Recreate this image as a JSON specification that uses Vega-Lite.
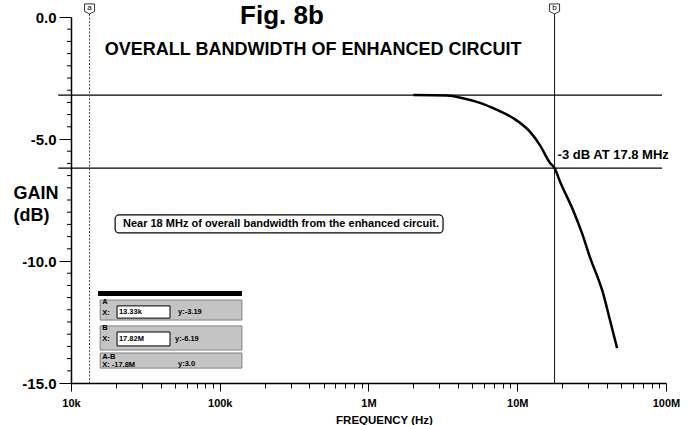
{
  "$schema": "https://vega.github.io/schema/vega-lite/v6.json",
  "width": 595,
  "height": 366,
  "autosize": {"type": "none"},
  "padding": {"left": 71, "top": 17, "right": 29, "bottom": 42},
  "background": "white",
  "config": {
    "view": {"stroke": null},
    "font": "Liberation Sans",
    "text": {"font": "Liberation Sans", "fontWeight": "bold", "color": "black"}
  },
  "datasets": {
    "curve": [
      {"freq": 2000000, "gain": -3.2},
      {"freq": 3370000, "gain": -3.22},
      {"freq": 4310000, "gain": -3.33},
      {"freq": 5620000, "gain": -3.52},
      {"freq": 7310000, "gain": -3.81},
      {"freq": 9360000, "gain": -4.14},
      {"freq": 12200000, "gain": -4.71},
      {"freq": 14200000, "gain": -5.25},
      {"freq": 16600000, "gain": -5.98},
      {"freq": 17820000, "gain": -6.19},
      {"freq": 19400000, "gain": -6.75},
      {"freq": 23700000, "gain": -7.91},
      {"freq": 27200000, "gain": -8.85},
      {"freq": 30800000, "gain": -9.84},
      {"freq": 37700000, "gain": -11.31},
      {"freq": 42000000, "gain": -12.42},
      {"freq": 46900000, "gain": -13.57}
    ],
    "levels": [{"level": -3.2}, {"level": -6.19}],
    "cursors": [{"cursor": "a", "freq": 13330}, {"cursor": "b", "freq": 17820000}],
    "yminor": [
      {"v": -0.5}, {"v": -1}, {"v": -1.5}, {"v": -2}, {"v": -2.5}, {"v": -3}, {"v": -3.5}, {"v": -4}, {"v": -4.5},
      {"v": -5.5}, {"v": -6}, {"v": -6.5}, {"v": -7}, {"v": -7.5}, {"v": -8}, {"v": -8.5}, {"v": -9}, {"v": -9.5},
      {"v": -10.5}, {"v": -11}, {"v": -11.5}, {"v": -12}, {"v": -12.5}, {"v": -13}, {"v": -13.5}, {"v": -14}, {"v": -14.5}
    ],
    "one": [{}]
  },
  "layer": [
    {
      "data": {"name": "curve"},
      "mark": {"type": "line", "color": "black", "strokeWidth": 2.5, "interpolate": "monotone"},
      "encoding": {
        "x": {
          "field": "freq",
          "type": "quantitative",
          "scale": {"type": "log", "domain": [10000, 100000000]},
          "axis": {
            "values": [10000, 20000, 30000, 40000, 50000, 60000, 70000, 80000, 90000,
                       100000, 200000, 300000, 400000, 500000, 600000, 700000, 800000, 900000,
                       1000000, 2000000, 3000000, 4000000, 5000000, 6000000, 7000000, 8000000, 9000000,
                       10000000, 20000000, 30000000, 40000000, 50000000, 60000000, 70000000, 80000000, 90000000,
                       100000000],
            "labelExpr": "datum.value == 10000 ? '10k' : datum.value == 100000 ? '100k' : datum.value == 1000000 ? '1M' : datum.value == 10000000 ? '10M' : datum.value == 100000000 ? '100M' : ''",
            "tickSize": {"condition": {"test": "abs(log(datum.value)/LN10 - round(log(datum.value)/LN10)) < 0.001", "value": 8}, "value": 5},
            "labelPadding": 6,
            "labelFontSize": 11,
            "labelFontWeight": "bold",
            "labelColor": "black",
            "labelFont": "Liberation Sans",
            "labelFlush": false,
            "labelOverlap": false,
            "tickColor": "black",
            "domainColor": "black",
            "domainWidth": 1.5,
            "grid": false,
            "title": "FREQUENCY (Hz)",
            "titleFont": "Liberation Sans",
            "titleFontSize": 11.5,
            "titleFontWeight": "bold",
            "titleColor": "black",
            "titleX": 313,
            "titleY": 37,
            "titleBaseline": "middle",
            "titleAlign": "center"
          }
        },
        "y": {
          "field": "gain",
          "type": "quantitative",
          "scale": {"domain": [-15, 0], "nice": false, "zero": false},
          "axis": {
            "values": [0, -5, -10, -15],
            "labelExpr": "datum.value == 0 ? '0.0' : datum.value == -5 ? '-5.0' : datum.value == -10 ? '-10.0' : '-15.0'",
            "tickSize": 12,
            "labelPadding": 3,
            "labelFontSize": 15,
            "labelFontWeight": "bold",
            "labelColor": "black",
            "labelFont": "Liberation Sans",
            "labelFlush": false,
            "labelOverlap": false,
            "tickColor": "black",
            "domainColor": "black",
            "domainWidth": 1.5,
            "grid": false,
            "title": ["GAIN", "(dB)"],
            "titleFont": "Liberation Sans",
            "titleFontSize": 18,
            "titleFontWeight": "bold",
            "titleColor": "black",
            "titleAngle": 0,
            "titleAlign": "left",
            "titleBaseline": "alphabetic",
            "titleX": -58,
            "titleY": 181,
            "titleLineHeight": 22
          }
        }
      }
    },
    {
      "data": {"name": "yminor"},
      "mark": {"type": "tick", "orient": "horizontal", "size": 4, "thickness": 1, "color": "black", "xOffset": -2, "opacity": 1},
      "encoding": {
        "y": {"field": "v", "type": "quantitative"},
        "x": {"datum": 10000, "type": "quantitative"}
      }
    },
    {
      "data": {"name": "levels"},
      "mark": {"type": "rule", "color": "black", "strokeWidth": 1.3},
      "encoding": {
        "y": {"field": "level", "type": "quantitative"},
        "x": {"datum": 8200, "type": "quantitative"},
        "x2": {"datum": 94000000}
      }
    },
    {
      "data": {"name": "cursors"},
      "mark": {"type": "rule", "strokeWidth": 1},
      "encoding": {
        "x": {"field": "freq", "type": "quantitative"},
        "y": {"datum": 0.12, "type": "quantitative"},
        "y2": {"datum": -15},
        "color": {"field": "cursor", "type": "nominal", "scale": {"domain": ["a", "b"], "range": ["#444444", "#000000"]}, "legend": null},
        "strokeDash": {"field": "cursor", "type": "nominal", "scale": {"domain": ["a", "b"], "range": [[2, 1.5], [1, 0]]}, "legend": null}
      }
    },
    {
      "data": {"name": "cursors"},
      "mark": {"type": "point", "shape": "M-1,-1L1,-1L1,0.5L0,1L-1,0.5Z", "size": 100, "filled": true, "fill": "white", "stroke": "black", "strokeWidth": 0.8, "opacity": 1},
      "encoding": {
        "x": {"field": "freq", "type": "quantitative"},
        "y": {"datum": 0.33, "type": "quantitative"}
      }
    },
    {
      "data": {"name": "cursors"},
      "mark": {"type": "text", "fontSize": 8, "fontWeight": "normal", "baseline": "middle", "align": "center", "dy": -1, "color": "black"},
      "encoding": {
        "x": {"field": "freq", "type": "quantitative"},
        "y": {"datum": 0.33, "type": "quantitative"},
        "text": {"field": "cursor"}
      }
    },
    {
      "data": {"name": "one"},
      "mark": {"type": "text", "fontSize": 26, "align": "center", "baseline": "alphabetic", "color": "black"},
      "encoding": {
        "x": {"datum": 262000, "type": "quantitative"},
        "y": {"datum": -0.29, "type": "quantitative"},
        "text": {"value": "Fig. 8b"}
      }
    },
    {
      "data": {"name": "one"},
      "mark": {"type": "text", "fontSize": 18, "align": "center", "baseline": "middle", "color": "black"},
      "encoding": {
        "x": {"datum": 424000, "type": "quantitative"},
        "y": {"datum": -1.35, "type": "quantitative"},
        "text": {"value": "OVERALL BANDWIDTH OF ENHANCED CIRCUIT"}
      }
    },
    {
      "data": {"name": "one"},
      "mark": {"type": "text", "fontSize": 13, "align": "left", "baseline": "middle", "dx": 3, "color": "black"},
      "encoding": {
        "x": {"datum": 17820000, "type": "quantitative"},
        "y": {"datum": -5.66, "type": "quantitative"},
        "text": {"value": "-3 dB AT 17.8 MHz"}
      }
    },
    {
      "data": {"name": "one"},
      "mark": {"type": "rect", "fill": "white", "stroke": "black", "strokeWidth": 1.2, "cornerRadius": 4},
      "encoding": {
        "x": {"datum": 19800, "type": "quantitative"},
        "x2": {"datum": 3170000},
        "y": {"datum": -8.11, "type": "quantitative"},
        "y2": {"datum": -8.85}
      }
    },
    {
      "data": {"name": "one"},
      "mark": {"type": "text", "fontSize": 11, "align": "center", "baseline": "middle", "color": "black"},
      "encoding": {
        "x": {"datum": 258000, "type": "quantitative"},
        "y": {"datum": -8.48, "type": "quantitative"},
        "text": {"value": "Near 18 MHz of overall bandwidth from the enhanced circuit."}
      }
    },
    {
      "data": {"name": "one"},
      "mark": {"type": "rect", "fill": "black"},
      "encoding": {
        "x": {"datum": 15200, "type": "quantitative"},
        "x2": {"datum": 141000},
        "y": {"datum": -11.23, "type": "quantitative"},
        "y2": {"datum": -11.43}
      }
    },
    {
      "data": {"name": "one"},
      "mark": {"type": "rect", "fill": "#c4c4c4", "stroke": "#808080", "strokeWidth": 1},
      "encoding": {
        "x": {"datum": 15700, "type": "quantitative"},
        "x2": {"datum": 141000},
        "y": {"datum": -11.6, "type": "quantitative"},
        "y2": {"datum": -12.42}
      }
    },
    {
      "data": {"name": "one"},
      "mark": {"type": "rect", "fill": "#c4c4c4", "stroke": "#808080", "strokeWidth": 1},
      "encoding": {
        "x": {"datum": 15700, "type": "quantitative"},
        "x2": {"datum": 141000},
        "y": {"datum": -12.66, "type": "quantitative"},
        "y2": {"datum": -13.65}
      }
    },
    {
      "data": {"name": "one"},
      "mark": {"type": "rect", "fill": "#c4c4c4", "stroke": "#808080", "strokeWidth": 1},
      "encoding": {
        "x": {"datum": 15700, "type": "quantitative"},
        "x2": {"datum": 141000},
        "y": {"datum": -13.77, "type": "quantitative"},
        "y2": {"datum": -14.39}
      }
    },
    {
      "data": {"name": "one"},
      "mark": {"type": "rect", "fill": "white", "stroke": "black", "strokeWidth": 1},
      "encoding": {
        "x": {"datum": 20400, "type": "quantitative"},
        "x2": {"datum": 46300},
        "y": {"datum": -11.84, "type": "quantitative"},
        "y2": {"datum": -12.34}
      }
    },
    {
      "data": {"name": "one"},
      "mark": {"type": "rect", "fill": "white", "stroke": "black", "strokeWidth": 1},
      "encoding": {
        "x": {"datum": 20400, "type": "quantitative"},
        "x2": {"datum": 46300},
        "y": {"datum": -12.91, "type": "quantitative"},
        "y2": {"datum": -13.48}
      }
    },
    {
      "data": {"name": "one"},
      "mark": {"type": "text", "fontSize": 7.5, "align": "left", "baseline": "middle", "lineHeight": 11, "color": "black"},
      "encoding": {
        "x": {"datum": 16200, "type": "quantitative"},
        "y": {"datum": -11.68, "type": "quantitative"},
        "text": {"value": ["A", "X:"]}
      }
    },
    {
      "data": {"name": "one"},
      "mark": {"type": "text", "fontSize": 7.5, "align": "left", "baseline": "middle", "lineHeight": 11, "color": "black"},
      "encoding": {
        "x": {"datum": 16200, "type": "quantitative"},
        "y": {"datum": -12.75, "type": "quantitative"},
        "text": {"value": ["B", "X:"]}
      }
    },
    {
      "data": {"name": "one"},
      "mark": {"type": "text", "fontSize": 7.5, "align": "left", "baseline": "middle", "lineHeight": 8, "color": "black"},
      "encoding": {
        "x": {"datum": 16200, "type": "quantitative"},
        "y": {"datum": -13.93, "type": "quantitative"},
        "text": {"value": ["A-B", "X: -17.8M"]}
      }
    },
    {
      "data": {"name": "one"},
      "mark": {"type": "text", "fontSize": 7.5, "align": "left", "baseline": "middle", "color": "black"},
      "encoding": {
        "x": {"datum": 21000, "type": "quantitative"},
        "y": {"datum": -12.1, "type": "quantitative"},
        "text": {"value": "13.33k"}
      }
    },
    {
      "data": {"name": "one"},
      "mark": {"type": "text", "fontSize": 7.5, "align": "left", "baseline": "middle", "color": "black"},
      "encoding": {
        "x": {"datum": 21000, "type": "quantitative"},
        "y": {"datum": -13.2, "type": "quantitative"},
        "text": {"value": "17.82M"}
      }
    },
    {
      "data": {"name": "one"},
      "mark": {"type": "text", "fontSize": 7.5, "align": "left", "baseline": "middle", "color": "black"},
      "encoding": {
        "x": {"datum": 52400, "type": "quantitative"},
        "y": {"datum": -12.1, "type": "quantitative"},
        "text": {"value": "y:-3.19"}
      }
    },
    {
      "data": {"name": "one"},
      "mark": {"type": "text", "fontSize": 7.5, "align": "left", "baseline": "middle", "color": "black"},
      "encoding": {
        "x": {"datum": 50000, "type": "quantitative"},
        "y": {"datum": -13.2, "type": "quantitative"},
        "text": {"value": "y:-6.19"}
      }
    },
    {
      "data": {"name": "one"},
      "mark": {"type": "text", "fontSize": 7.5, "align": "left", "baseline": "middle", "color": "black"},
      "encoding": {
        "x": {"datum": 52400, "type": "quantitative"},
        "y": {"datum": -14.22, "type": "quantitative"},
        "text": {"value": "y:3.0"}
      }
    }
  ]
}
